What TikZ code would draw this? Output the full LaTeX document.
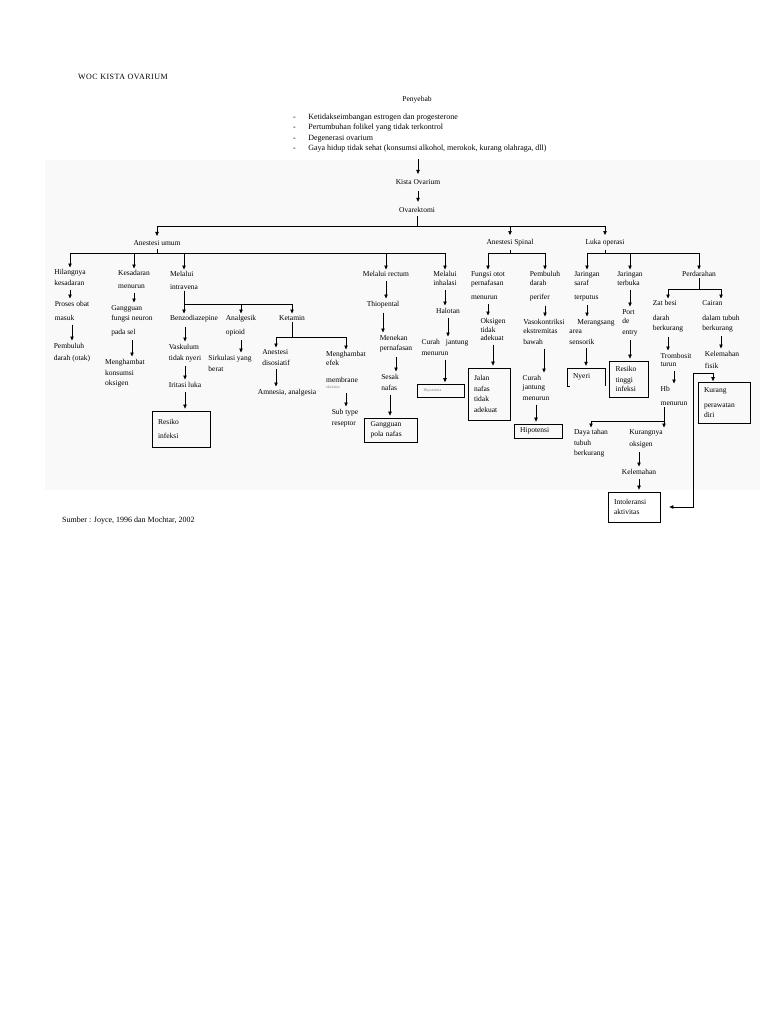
\documentclass[tikz,border=0pt]{standalone}
\usepackage{fontspec}
\setmainfont{Liberation Serif}
\usepackage{tikz}
\usetikzlibrary{arrows.meta}
\definecolor{Pale}{gray}{0.978}

\begin{document}
\begin{tikzpicture}[x=1pt,y=-1pt,>={Triangle[length=4pt,width=3.4pt]},
    every node/.style={font=\fontsize{7.5}{10.5}\selectfont},
    teks/.style={inner sep=1pt,align=left,anchor=north},
    kotak/.style={draw,line width=0.7pt,align=left,inner xsep=6pt,inner ysep=2pt},
    garis/.style={line width=0.6pt},
    panah/.style={garis,->,shorten <=3pt,shorten >=2pt},
    cabang/.style={garis,->,shorten >=1pt}]
  \useasboundingbox (0,0) rectangle (768,1024);
  \fill[Pale] (45,160) rectangle (760,490);

  % judul dan penyebab
  \node[anchor=west,inner sep=0pt,font=\fontsize{8}{10}\selectfont\addfontfeatures{LetterSpace=6}] (judul) at (78,77) {WOC KISTA OVARIUM};
  \node (peny) at (417,100) {Penyebab};
  \node[anchor=north west,inner sep=0pt,font=\fontsize{8}{10.5}\selectfont] (sebab) at (293,111.5) {%
    \renewcommand\arraystretch{1.0}%
    \begin{tabular}{@{}l@{\hspace{12.5pt}}l@{}}
      - & Ketidakseimbangan estrogen dan progesterone\\
      - & Pertumbuhan folikel yang tidak terkontrol\\
      - & Degenerasi ovarium\\
      - & Gaya hidup tidak sehat (konsumsi alkohol, merokok, kurang olahraga, dll)
    \end{tabular}};
  \node (kista) at (418,182) {Kista Ovarium};
  \node (ovar) at (417,210) {Ovarektomi};
  \draw[panah,shorten <=5pt] (sebab.south -| kista.north) -- (kista.north);
  \draw[panah] (kista.south) -- (kista.south |- ovar.north);

  \node (anUm) at (157,243) {Anestesi umum};
  \node (anSp) at (510,243) {Anestesi Spinal};
  \node (luka) at (605,243) {Luka operasi};
  \coordinate (jOvar) at (417,226);
  \draw[garis] (ovar.south) -- (jOvar);
  \draw[garis] (jOvar -| anUm.north) -- (jOvar -| luka.north);
  \draw[cabang] (jOvar -| anUm.north) -- (anUm.north);
  \draw[cabang] (jOvar -| anSp.north) -- (anSp.north);
  \draw[cabang] (jOvar -| luka.north) -- (luka.north);

  % anestesi umum
  \node[teks] (hil) at (70,268.5) {Hilangnya\\kesadaran};
  \node[teks] (proses) at (72,300.5) {Proses obat\\[3pt]masuk};
  \node[teks] (pemb) at (72,342.5) {Pembuluh\\[1.5pt]darah (otak)};
  \node[teks] (kes) at (134,269.5) {Kesadaran\\[2pt]menurun};
  \node[teks] (gang) at (132,304.5) {Gangguan\\[-1pt]fungsi neuron\\[4pt]pada sel};
  \node[teks] (meng) at (125,358.5) {Menghambat\\konsumsi\\oksigen};
  \node[teks] (intra) at (184,270.5) {Melalui\\[2pt]intravena};
  \node[teks] (rect) at (386,270.5) {Melalui rectum};
  \node[teks] (inh) at (445,270.5) {Melalui\\[-1.5pt]inhalasi};
  \coordinate (jUm) at (157,253);
  \draw[garis] (anUm.south) -- (jUm);
  \draw[garis] (jUm -| hil.north) -- (jUm -| inh.north);
  \draw[cabang] (jUm -| hil.north) -- (hil.north);
  \draw[cabang] (jUm -| kes.north) -- (kes.north);
  \draw[cabang] (jUm -| intra.north) -- (intra.north);
  \draw[cabang] (jUm -| rect.north) -- (rect.north);
  \draw[cabang] (jUm -| inh.north) -- (inh.north);
  \draw[panah] (hil.south) -- (hil.south |- proses.north);
  \draw[panah] (proses.south) -- (proses.south |- pemb.north);
  \draw[panah] (kes.south) -- (kes.south |- gang.north);
  \draw[panah] (gang.south) -- (gang.south |- meng.north);

  % melalui intravena
  \node[teks] (benzo) at (194,314.5) {Benzodiazepine};
  \node[teks] (analg) at (241,314.5) {Analgesik\\[3pt]opioid};
  \node[teks] (ket) at (292,314.5) {Ketamin};
  \coordinate (jIntra) at (184,304);
  \draw[garis] (intra.south) -- (jIntra);
  \draw[garis] (jIntra) -- (jIntra -| ket.north);
  \draw[cabang] (jIntra) -- (jIntra |- benzo.north);
  \draw[cabang] (jIntra -| analg.north) -- (analg.north);
  \draw[cabang] (jIntra -| ket.north) -- (ket.north);
  \node[teks] (vask) at (185,343.5) {Vaskulum\\tidak nyeri};
  \node[teks] (irit) at (185,381.5) {Iritasi luka};
  \node[kotak,text width=46pt,minimum height=36pt] (ri1) at (181,429) {Resiko\\[3pt]infeksi};
  \draw[panah] (benzo.south -| vask.north) -- (vask.north);
  \draw[panah] (vask.south) -- (vask.south |- irit.north);
  \draw[panah] (irit.south) -- (irit.south |- ri1.north);
  \node[teks] (sirk) at (230,354.5) {Sirkulasi yang\\berat};
  \draw[panah] (analg.south) -- (analg.south |- sirk.north);
  \node[teks] (anDis) at (276,348.5) {Anestesi\\disosiatif};
  \node[teks] (amn) at (287,388.5) {Amnesia, analgesia};
  \node[teks] (mengE) at (346,350.5) {Menghambat\\[-1.5pt]efek\\[6pt]membrane\\[-4pt]{\fontsize{4}{5}\selectfont\color{gray}eksitator}};
  \node[teks] (subt) at (345,408.5) {Sub type\\reseptor};
  \coordinate (jKet) at (292,337);
  \draw[garis] (ket.south) -- (jKet);
  \draw[garis] (jKet -| anDis.north) -- (jKet -| mengE.north);
  \draw[cabang] (jKet -| anDis.north) -- (anDis.north);
  \draw[cabang] (jKet -| mengE.north) -- (mengE.north);
  \draw[panah] (anDis.south) -- (anDis.south |- amn.north);
  \draw[panah] (mengE.south) -- (mengE.south |- subt.north);

  % melalui rectum
  \node[teks] (thio) at (383,300.5) {Thiopental};
  \node[teks] (menek) at (396,334.5) {Menekan\\[-0.5pt]pernafasan};
  \node[teks] (sesak) at (390,373.5) {Sesak\\nafas};
  \node[kotak,text width=41pt,minimum height=24pt] (gpn) at (391,430) {Gangguan\\pola nafas};
  \draw[panah] (rect.south) -- (rect.south |- thio.north);
  \draw[panah] (thio.south) -- (thio.south |- menek.north);
  \draw[panah] (menek.south) -- (menek.south |- sesak.north);
  \draw[panah] (sesak.south) -- (sesak.south |- gpn.north);

  % melalui inhalasi
  \node[teks] (halo) at (448,307.5) {Halotan};
  \node[teks] (curah1) at (445,338.5) {Curah\hspace{6pt}jantung\\menurun};
  \node[kotak,line width=0.6pt,text width=35pt,minimum height=13pt,inner ysep=1pt] (hipox) at (441,391)
    {\fontsize{4}{5}\selectfont\color{gray}Hipoxemia};
  \draw[panah] (inh.south) -- (inh.south |- halo.north);
  \draw[panah] (halo.south) -- (halo.south |- curah1.north);
  \draw[panah] (curah1.south) -- (curah1.south |- hipox.north);

  % anestesi spinal
  \node[teks] (fungsi) at (488,270.5) {Fungsi otot\\[-1.5pt]pernafasan\\[3.5pt]menurun};
  \node[teks] (oks) at (493,317.5) {Oksigen\\[-2pt]tidak\\[-2.5pt]adekuat};
  \node[kotak,text width=30pt,minimum height=52pt] (jalan) at (489,394) {Jalan\\nafas\\tidak\\adekuat};
  \node[teks] (pembP) at (545,270.5) {Pembuluh\\[-1.5pt]darah\\[3.5pt]perifer};
  \node[teks] (vaso) at (544,318.5) {Vasokontriksi\\[-1.5pt]ekstremitas\\bawah};
  \node[teks] (curah2) at (536,374.5) {Curah\\[-1.5pt]jantung\\menurun};
  \node[kotak,text width=36pt,minimum height=14pt,inner ysep=1pt] (hipot) at (538,431) {Hipotensi};
  \coordinate (jSp) at (510,253);
  \draw[garis] (anSp.south) -- (jSp);
  \draw[garis] (jSp -| fungsi.north) -- (jSp -| pembP.north);
  \draw[cabang] (jSp -| fungsi.north) -- (fungsi.north);
  \draw[cabang] (jSp -| pembP.north) -- (pembP.north);
  \draw[panah] (fungsi.south) -- (fungsi.south |- oks.north);
  \draw[panah] (oks.south) -- (oks.south |- jalan.north);
  \draw[panah] (pembP.south) -- (pembP.south |- vaso.north);
  \draw[panah] (vaso.south) -- (vaso.south |- curah2.north);
  \draw[panah] (curah2.south) -- (curah2.south |- hipot.north);

  % luka operasi
  \node[teks] (jsar) at (587,270.5) {Jaringan\\[-1.5pt]saraf\\[3.5pt]terputus};
  \node[teks] (meran) at (592,318.5) {\hspace{8pt}Merangsang\\[-1.5pt]area\\sensorik};
  \node[align=left,text width=26pt,inner xsep=6pt,minimum height=18pt] (nyeri) at (586,377) {Nyeri};
  \draw[garis] ([xshift=3pt]nyeri.south west) -- (nyeri.south west) -- (nyeri.north west)
    -- (nyeri.north east) -- (nyeri.south east);
  \node[teks] (jterb) at (630,270.5) {Jaringan\\[-1.5pt]terbuka};
  \node[teks] (port) at (630,308.5) {Port\\[-1.5pt]de\\entry};
  \node[kotak,text width=27pt,minimum height=36pt] (rti) at (629,379) {Resiko\\[1pt]tinggi\\[-1.5pt]infeksi};
  \node[teks] (perd) at (699,270.5) {Perdarahan};
  \coordinate (jLuka) at (605,253);
  \draw[garis] (luka.south) -- (jLuka);
  \draw[garis] (jLuka -| jsar.north) -- (jLuka -| perd.north);
  \draw[cabang] (jLuka -| jsar.north) -- (jsar.north);
  \draw[cabang] (jLuka -| jterb.north) -- (jterb.north);
  \draw[cabang] (jLuka -| perd.north) -- (perd.north);
  \draw[panah] (jsar.south) -- (jsar.south |- meran.north);
  \draw[panah] (nyeri.north |- meran.south) -- (nyeri.north);
  \draw[panah] (jterb.south) -- (jterb.south |- port.north);
  \draw[panah] (port.south) -- (port.south |- rti.north);

  % perdarahan
  \node[teks] (zat) at (668,299.5) {Zat besi\\[4pt]darah\\berkurang};
  \node[teks] (trom) at (676,352.5) {Trombosit\\[-2.5pt]turun};
  \node[teks] (hb) at (674,385.5) {Hb\\[3.5pt]menurun};
  \node[teks] (cair) at (721,299.5) {Cairan\\[4pt]dalam tubuh\\berkurang};
  \node[teks] (lemF) at (722,350.5) {Kelemahan\\[1.5pt]fisik};
  \node[kotak,text width=40pt,minimum height=41pt] (kpd) at (724,403) {Kurang\\[4pt]perawatan\\diri};
  \coordinate (jPerd) at (699,289);
  \draw[garis] (perd.south) -- (jPerd);
  \draw[garis] (jPerd -| zat.north) -- (jPerd -| cair.north);
  \draw[cabang] (jPerd -| zat.north) -- (zat.north);
  \draw[cabang] (jPerd -| cair.north) -- (cair.north);
  \draw[panah] (zat.south) -- (zat.south |- trom.north);
  \draw[panah] (hb.north |- trom.south) -- (hb.north);
  \draw[panah] (cair.south) -- (cair.south |- lemF.north);

  \node[teks] (daya) at (591,428.5) {Daya tahan\\tubuh\\berkurang};
  \node[teks] (kurO) at (646,428.5) {Kurangnya\\[1.5pt]oksigen};
  \node[teks] (lemah) at (639,468.5) {Kelemahan};
  \node[kotak,text width=40pt,minimum height=30pt] (into) at (634,507) {Intoleransi\\aktivitas};
  \coordinate (jHb) at (664,421);
  \draw[garis] (hb.south -| jHb) -- (jHb);
  \draw[cabang] (jHb) -- (jHb |- kurO.north);
  \draw[cabang] (jHb) -| (daya.north);
  \draw[panah] (lemah.north |- kurO.south) -- (lemah.north);
  \draw[panah] (lemah.south) -- (lemah.south |- into.north);
  \coordinate (jLem) at (713,373);
  \draw[cabang] (jLem) -- (jLem |- kpd.north);
  \draw[cabang,shorten >=9pt] (jLem) -- ++(-20,0) |- (into.east);

  \node[anchor=west,inner sep=0pt,font=\fontsize{8}{10}\selectfont] (sumber) at (62,521) {Sumber : Joyce, 1996 dan Mochtar, 2002};
\end{tikzpicture}
\end{document}
